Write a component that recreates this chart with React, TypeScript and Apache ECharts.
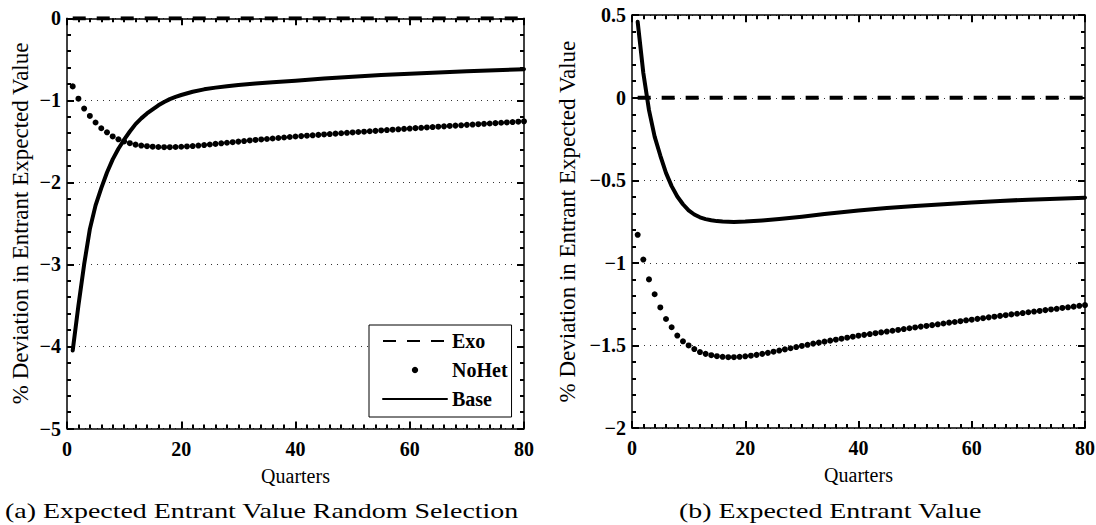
import React, { useEffect, useRef } from 'react';
import * as echarts from 'echarts';

// ---------- data ----------
const quarters = [
  1, 2, 3, 4, 5, 6, 7, 8, 9, 10, 11, 12, 13, 14, 15, 16, 17, 18, 19, 20,
  21, 22, 23, 24, 25, 26, 27, 28, 29, 30, 31, 32, 33, 34, 35, 36, 37, 38, 39, 40,
  41, 42, 43, 44, 45, 46, 47, 48, 49, 50, 51, 52, 53, 54, 55, 56, 57, 58, 59, 60,
  61, 62, 63, 64, 65, 66, 67, 68, 69, 70, 71, 72, 73, 74, 75, 76, 77, 78, 79, 80,
];
const noHetValues = [
  -0.83, -0.98, -1.10, -1.19, -1.27, -1.34, -1.39, -1.44, -1.475, -1.50,
  -1.522, -1.54, -1.551, -1.559, -1.565, -1.569, -1.571, -1.571, -1.569, -1.566,
  -1.562, -1.557, -1.551, -1.545, -1.538, -1.531, -1.524, -1.517, -1.510, -1.503,
  -1.496, -1.489, -1.483, -1.477, -1.471, -1.465, -1.459, -1.453, -1.447, -1.441,
  -1.436, -1.431, -1.426, -1.421, -1.416, -1.411, -1.406, -1.401, -1.396, -1.391,
  -1.386, -1.382, -1.377, -1.372, -1.367, -1.362, -1.358, -1.353, -1.348, -1.344,
  -1.339, -1.335, -1.330, -1.326, -1.321, -1.317, -1.312, -1.308, -1.304, -1.299,
  -1.295, -1.291, -1.286, -1.282, -1.278, -1.273, -1.269, -1.265, -1.260, -1.256,
];
const exoQuarters = [1, 80];
const exoValues = [0, 0];

// panel (a): Base
const baseQuartersA = [1, 2, 3, 4, 5, 6, 7, 8, 9, 10, 11, 12, 13, 14, 15, 16, 17, 18, 19, 20, 22, 24, 26, 28, 30, 33, 36, 40, 45, 50, 55, 60, 65, 70, 75, 80];
const baseValuesA = [-4.05, -3.50, -3.00, -2.57, -2.28, -2.07, -1.88, -1.72, -1.59, -1.48, -1.38, -1.29, -1.22, -1.16, -1.11, -1.06, -1.02, -0.985, -0.958, -0.935, -0.895, -0.866, -0.845, -0.827, -0.812, -0.795, -0.78, -0.76, -0.735, -0.712, -0.692, -0.675, -0.66, -0.646, -0.632, -0.62];

// panel (b): Base
const baseQuartersB = [1, 2, 3, 4, 5, 6, 7, 8, 9, 10, 11, 12, 13, 14, 15, 16, 18, 20, 23, 26, 30, 34, 40, 45, 50, 55, 60, 65, 70, 75, 80];
const baseValuesB = [0.46, 0.15, -0.075, -0.235, -0.35, -0.455, -0.535, -0.598, -0.645, -0.682, -0.707, -0.724, -0.735, -0.742, -0.747, -0.75, -0.752, -0.75, -0.743, -0.734, -0.72, -0.704, -0.683, -0.668, -0.656, -0.645, -0.634, -0.625, -0.617, -0.611, -0.605];

const seriesNames = ['Exo', 'NoHet', 'Base'];
const xAxisName = 'Quarters';
const yAxisName = '% Deviation in Entrant Expected Value';
const captionA = '(a) Expected Entrant Value Random Selection';
const captionB = '(b) Expected Entrant Value';

// ---------- helpers ----------
const pairs = (xs: number[], ys: number[]) => xs.map((x, i) => [x, ys[i]]);
const fmt = (v: number) => (v < 0 ? '\u2212' + String(Math.abs(v)) : String(v));

const serif = 'Liberation Serif';
const tickFont = () => ({ fontFamily: serif, fontWeight: 'bold' as const, fontSize: 20, color: '#000' });
const axisLine = () => ({ show: true, onZero: false, lineStyle: { color: '#000', width: 1.5 } });
const axisTick = () => ({ show: true, inside: true, length: 7, lineStyle: { color: '#000', width: 2 } });
const minorTick = (n: number) => ({ show: true, splitNumber: n, length: 4, lineStyle: { color: '#000', width: 2 } });
const gridDots = () => ({ show: true, lineStyle: { color: '#333', width: 1, type: [1, 5] as number[] } });

function xAxesFor(gridIndex: number) {
  return [
    {
      type: 'value', gridIndex, min: 0, max: 80, interval: 20, position: 'bottom',
      axisLine: axisLine(), axisTick: axisTick(), minorTick: minorTick(10),
      splitLine: { show: false },
      axisLabel: { ...tickFont(), margin: 10 },
      name: xAxisName, nameLocation: 'middle', nameGap: 37,
      nameTextStyle: { fontFamily: serif, fontSize: 20, color: '#000' },
    },
    {
      type: 'value', gridIndex, min: 0, max: 80, interval: 20, position: 'top',
      axisLine: axisLine(), axisTick: axisTick(), minorTick: minorTick(10),
      splitLine: { show: false },
      axisLabel: { show: false },
    },
  ];
}

function yAxesFor(gridIndex: number, min: number, max: number, interval: number, nameGap: number) {
  return [
    {
      type: 'value', gridIndex, min, max, interval, position: 'left',
      axisLine: axisLine(), axisTick: axisTick(), minorTick: minorTick(5),
      axisLabel: { ...tickFont(), margin: 6, formatter: (v: number) => fmt(v) },
      splitLine: gridDots(),
      name: yAxisName, nameLocation: 'middle', nameGap, nameRotate: 90,
      nameTextStyle: { fontFamily: serif, fontSize: 23, color: '#000' },
    },
    {
      type: 'value', gridIndex, min, max, interval, position: 'right',
      axisLine: axisLine(), axisTick: axisTick(), minorTick: minorTick(5),
      axisLabel: { show: false }, splitLine: { show: false },
    },
  ];
}

function seriesFor(axisIndex: number, baseX: number[], baseY: number[]) {
  return [
    {
      name: seriesNames[0], type: 'line', xAxisIndex: axisIndex, yAxisIndex: axisIndex,
      data: pairs(exoQuarters, exoValues), showSymbol: false, z: 4,
      lineStyle: { color: '#000', width: 4, type: [13, 11] as number[] },
      itemStyle: { color: '#000' },
    },
    {
      name: seriesNames[1], type: 'line', xAxisIndex: axisIndex, yAxisIndex: axisIndex,
      data: pairs(quarters, noHetValues), showSymbol: true, showAllSymbol: true,
      symbol: 'circle', symbolSize: 6, z: 3,
      lineStyle: { opacity: 0, width: 0 },
      itemStyle: { color: '#000', borderWidth: 0 },
    },
    {
      name: seriesNames[2], type: 'line', xAxisIndex: axisIndex, yAxisIndex: axisIndex,
      data: pairs(baseX, baseY), showSymbol: false, z: 5,
      lineStyle: { color: '#000', width: 4, cap: 'round', join: 'round' },
      itemStyle: { color: '#000' },
    },
  ];
}

export default function App() {
  const ref = useRef<HTMLDivElement>(null);

  useEffect(() => {
    if (!ref.current) return;
    const chart = echarts.init(ref.current, undefined, { renderer: 'svg' });
    const option: any = {
      animation: false,
      backgroundColor: '#fff',
      grid: [
        { left: 67, top: 18.3, width: 457, height: 410.2, containLabel: false, outerBoundsMode: 'none' },
        { left: 632, top: 15.2, width: 453, height: 412.8, containLabel: false, outerBoundsMode: 'none' },
      ],
      xAxis: [...xAxesFor(0), ...xAxesFor(1)],
      yAxis: [...yAxesFor(0, -5, 0, 1, 35), ...yAxesFor(1, -2, 0.5, 0.5, 53)],
      legend: {
        orient: 'vertical', left: 369, top: 325,
        padding: [6, 4, 8, 13],
        itemWidth: 64, itemHeight: 8, itemGap: 9,
        borderColor: '#000', borderWidth: 1, backgroundColor: '#fff',
        selectedMode: false,
        textStyle: { fontFamily: serif, fontWeight: 'bold', fontSize: 20, color: '#000' },
        data: [
          { name: seriesNames[0], itemStyle: { opacity: 0 } },
          { name: seriesNames[1], lineStyle: { opacity: 0 } },
          { name: seriesNames[2], itemStyle: { opacity: 0 } },
        ],
      },
      series: [
        ...seriesFor(0, baseQuartersA, baseValuesA),
        ...seriesFor(2, baseQuartersB, baseValuesB),
      ],
      graphic: [
        {
          type: 'text', x: 5, y: 511, scaleX: 1.33,
          style: { text: captionA, fontFamily: serif, fontSize: 21, fill: '#000', verticalAlign: 'middle' },
        },
        {
          type: 'text', x: 679, y: 511, scaleX: 1.33,
          style: { text: captionB, fontFamily: serif, fontSize: 21, fill: '#000', verticalAlign: 'middle' },
        },
      ],
    };
    chart.setOption(option);
    return () => chart.dispose();
  }, []);

  return (
    <div
      ref={ref}
      style={{ position: 'absolute', left: 0, top: 0, width: 1096, height: 525, background: '#fff' }}
    />
  );
}
